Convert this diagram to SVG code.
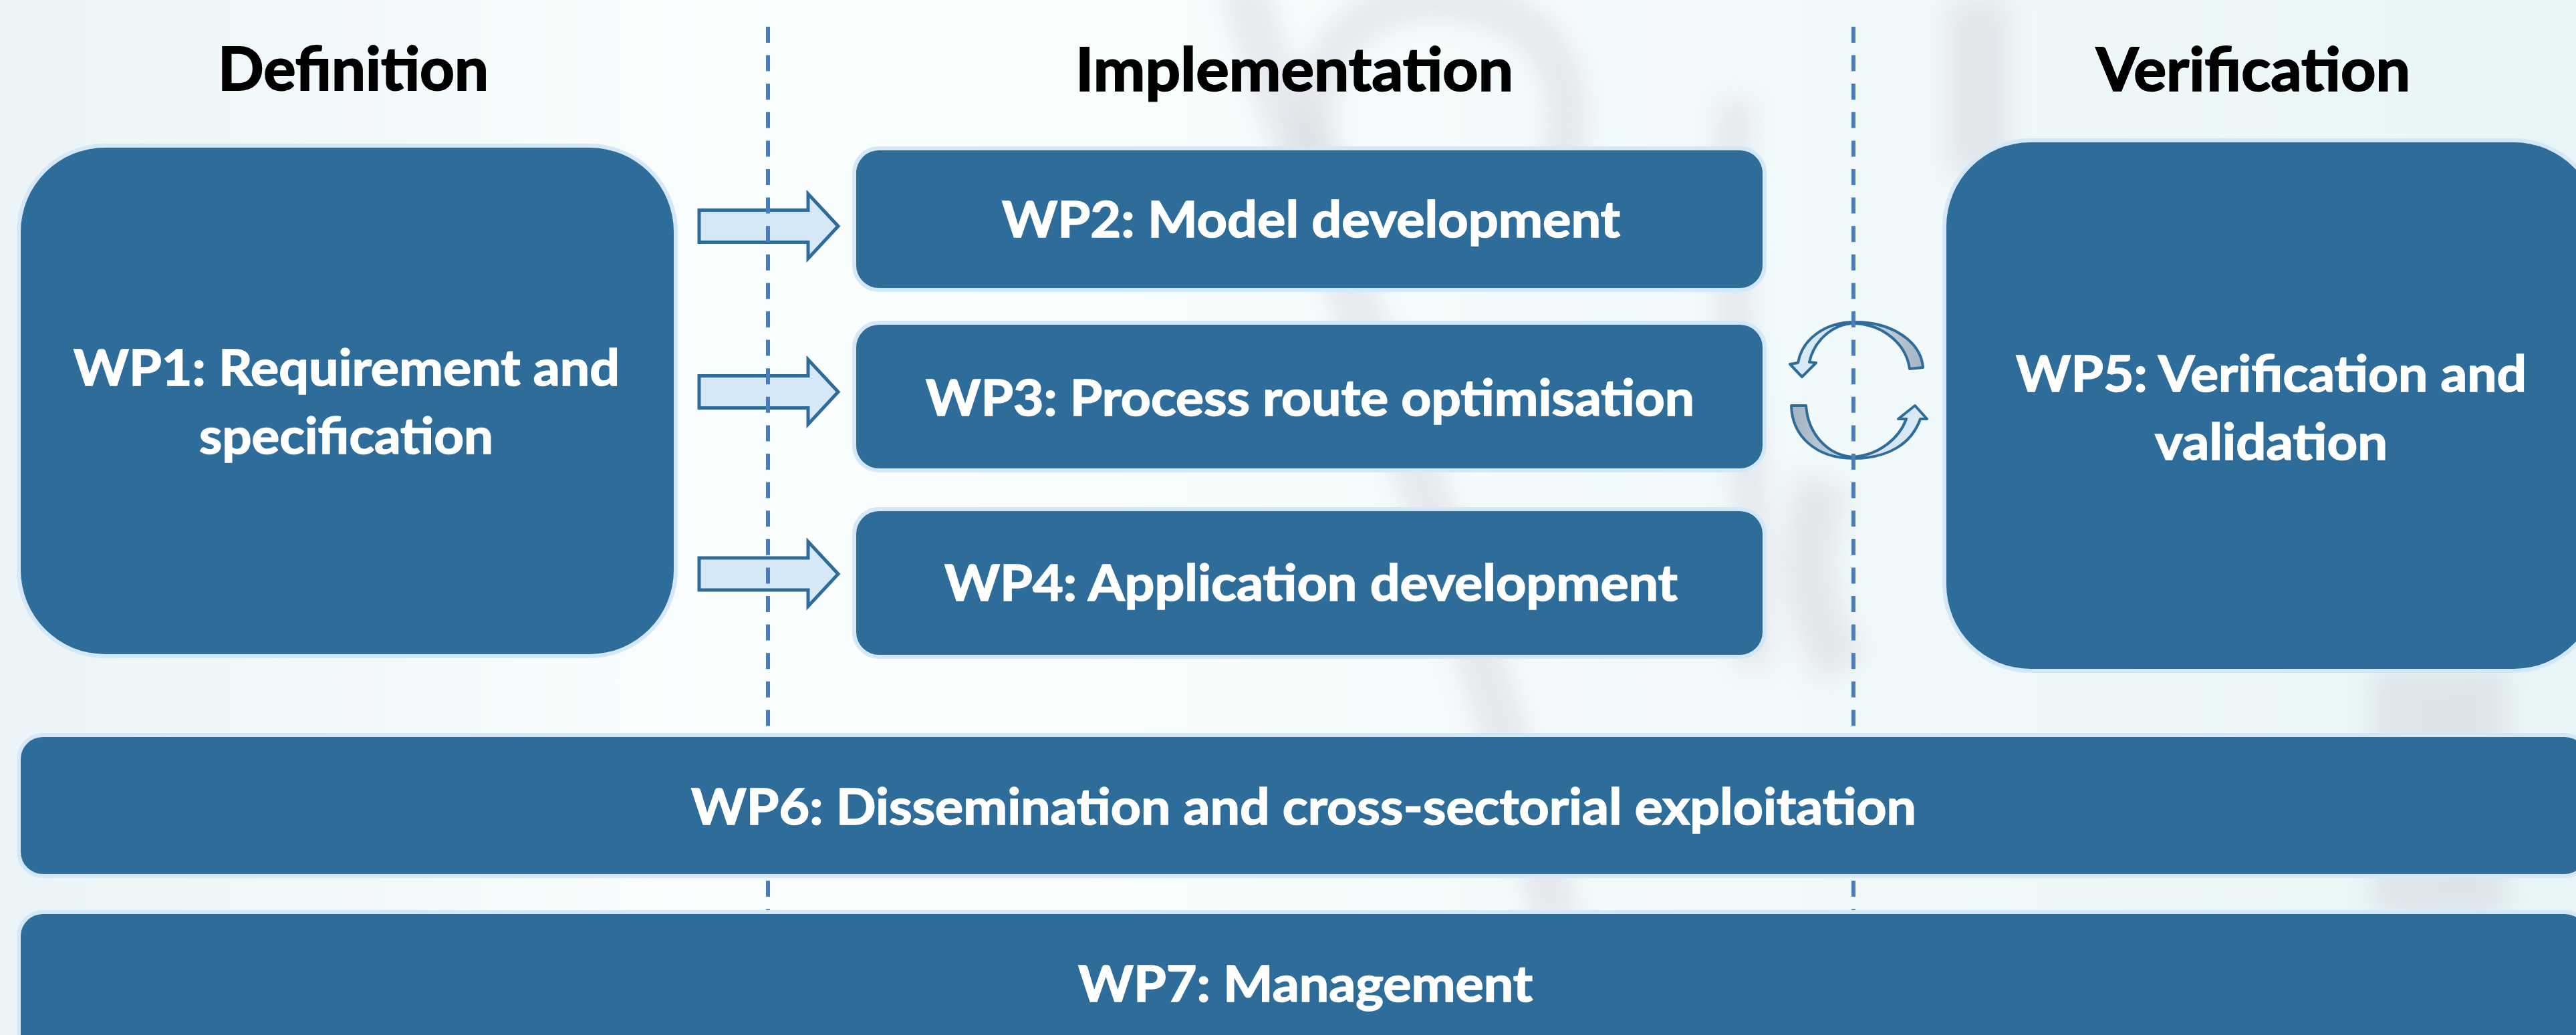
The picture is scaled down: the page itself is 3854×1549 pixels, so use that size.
<svg xmlns="http://www.w3.org/2000/svg" width="3854" height="1549" viewBox="0 0 3854 1549">
<defs>
<linearGradient id="bg" x1="0" y1="0" x2="1" y2="0">
<stop offset="0" stop-color="#ebf4f6"/>
<stop offset="0.3" stop-color="#fbfeff"/>
<stop offset="0.7" stop-color="#f2f9fa"/>
<stop offset="1" stop-color="#e8f5f6"/>
</linearGradient>
<linearGradient id="gTop" gradientUnits="userSpaceOnUse" x1="2700" y1="0" x2="2870" y2="0">
<stop offset="0" stop-color="#d8e9f7"/>
<stop offset="0.45" stop-color="#d2e2ef"/>
<stop offset="1" stop-color="#a9b7c4"/>
</linearGradient>
<linearGradient id="gBot" gradientUnits="userSpaceOnUse" x1="2690" y1="0" x2="2870" y2="0">
<stop offset="0" stop-color="#a9b7c4"/>
<stop offset="0.55" stop-color="#d2e2ef"/>
<stop offset="1" stop-color="#d8e9f7"/>
</linearGradient>
<filter id="blur" filterUnits="userSpaceOnUse" x="0" y="0" width="3854" height="1549"><feGaussianBlur stdDeviation="18"/></filter>
<style>
.box{fill:#2e6c99;stroke:#d5e8f7;stroke-width:12;paint-order:stroke fill}
.lbl{font-family:Lato,Carlito,"Open Sans",sans-serif;font-weight:bold;fill:#ffffff;stroke:#ffffff;stroke-width:1.6;font-size:75px}
.hd{font-family:Lato,Carlito,"Open Sans",sans-serif;font-weight:bold;fill:#000000;stroke:#000000;stroke-width:2;font-size:89px}
.blk{fill:#d6e8f6;stroke:#2e6c99;stroke-width:5;stroke-linejoin:miter}
.cyc{stroke:#2e6c99;stroke-width:4;stroke-linejoin:round}
.dash{stroke:#4a7ebb;stroke-width:6;stroke-dasharray:24 18.6;fill:none}
.smudge{fill:none;stroke:#c8c6d2;opacity:0.35;filter:url(#blur)}
</style>
</defs>
<g id="background">
<rect x="0" y="0" width="3854" height="1549" fill="url(#bg)"/>
<path class="smudge" d="M1860 -20 C1950 300 2150 700 2330 1380" stroke-width="70"/>
<path class="smudge" d="M2000 300 C1900 100 2050 -60 2250 20 C2400 90 2350 300 2250 380" stroke-width="60"/>
<path class="smudge" d="M2600 150 C2560 400 2640 700 2620 1000" stroke-width="50"/>
<path class="smudge" d="M2960 0 L2960 260" stroke-width="90"/>
<path class="smudge" d="M3650 1000 L3650 1370" stroke-width="200"/>
<path class="smudge" d="M2730 720 C2680 850 2720 950 2760 1000" stroke-width="80"/>
</g>
<g id="connectors">
<path id="arrow-wp1-wp2" class="blk" d="M1046 314.5 L1209 314.5 L1209 290 L1254 338.5 L1209 387 L1209 362.5 L1046 362.5 Z"/>
<path id="arrow-wp1-wp3" class="blk" d="M1046 562.5 L1209 562.5 L1209 538 L1254 586.5 L1209 635 L1209 610.5 L1046 610.5 Z"/>
<path id="arrow-wp1-wp4" class="blk" d="M1046 835 L1209 835 L1209 810.5 L1254 859 L1209 907.5 L1209 883 L1046 883 Z"/>
<path id="cycle-top" class="cyc" fill="url(#gTop)" d="M2857 552 L2877 550 C2874 512 2832 482 2775 482 C2730 482 2696 508 2690 543 L2678 545 L2696 564 L2717 543 L2707 542 C2714 510 2742 484 2775 484 C2818 486 2852 515 2857 552 Z"/>
<path id="cycle-bottom" class="cyc" fill="url(#gBot)" d="M2680 607 L2702 607 C2705 650 2735 682 2773 684 C2812 681 2842 655 2852 627 L2840 627 L2865 607 L2883 627 L2873 627 C2860 664 2825 686 2773 686 C2716 686 2681 652 2680 607 Z"/>
<line class="dash" x1="1149" y1="40" x2="1149" y2="1365"/>
<line class="dash" x1="2773" y1="40" x2="2773" y2="1365"/>
</g>
<g id="headings">
<text class="hd" x="326" y="135" textLength="405" lengthAdjust="spacingAndGlyphs">Definition</text>
<text class="hd" x="1609" y="136" textLength="655" lengthAdjust="spacingAndGlyphs">Implementation</text>
<text class="hd" x="3136" y="136" textLength="470" lengthAdjust="spacingAndGlyphs">Verification</text>
</g>
<g id="wp1">
<rect class="box" x="31" y="221" width="977" height="758" rx="126" ry="126"/>
<text class="lbl" x="110" y="577" textLength="817" lengthAdjust="spacingAndGlyphs">WP1: Requirement and</text>
<text class="lbl" x="298" y="679" textLength="440" lengthAdjust="spacingAndGlyphs">specification</text>
</g>
<g id="wp2">
<rect class="box" x="1281" y="225" width="1356" height="206" rx="34" ry="34"/>
<text class="lbl" x="1499" y="355" textLength="925" lengthAdjust="spacingAndGlyphs">WP2: Model development</text>
</g>
<g id="wp3">
<rect class="box" x="1281" y="486" width="1356" height="215" rx="34" ry="34"/>
<text class="lbl" x="1385" y="622" textLength="1150" lengthAdjust="spacingAndGlyphs">WP3: Process route optimisation</text>
</g>
<g id="wp4">
<rect class="box" x="1281" y="765" width="1356" height="215" rx="34" ry="34"/>
<text class="lbl" x="1413" y="899" textLength="1097" lengthAdjust="spacingAndGlyphs">WP4: Application development</text>
</g>
<g id="wp5">
<rect class="box" x="2912" y="213" width="975" height="788" rx="126" ry="126"/>
<text class="lbl" x="3016" y="586" textLength="764" lengthAdjust="spacingAndGlyphs">WP5: Verification and</text>
<text class="lbl" x="3224" y="688" textLength="348" lengthAdjust="spacingAndGlyphs">validation</text>
</g>
<g id="wp6">
<rect class="box" x="31" y="1103" width="3839" height="205" rx="33" ry="33"/>
<text class="lbl" x="1034" y="1234" textLength="1833" lengthAdjust="spacingAndGlyphs">WP6: Dissemination and cross-sectorial exploitation</text>
</g>
<g id="wp7">
<rect class="box" x="31" y="1368" width="3839" height="240" rx="33" ry="33"/>
<text class="lbl" x="1613" y="1499" textLength="680" lengthAdjust="spacingAndGlyphs">WP7: Management</text>
</g>
</svg>
